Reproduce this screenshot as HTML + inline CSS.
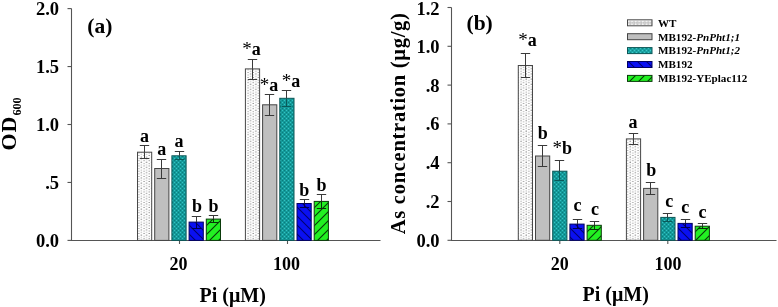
<!DOCTYPE html>
<html><head><meta charset="utf-8"><style>
html,body{margin:0;padding:0;background:#fff;}
svg{display:block;will-change:transform;}
</style></head><body>
<svg width="778" height="307" viewBox="0 0 778 307">
<defs>
<pattern id="pWT" width="5.2" height="5.2" patternUnits="userSpaceOnUse">
 <rect width="5.2" height="5.2" fill="#fff"/>
 <circle cx="1" cy="1" r="0.6" fill="#555"/>
 <circle cx="1" cy="3.6" r="0.55" fill="#999"/>
 <circle cx="3.6" cy="2.3" r="0.55" fill="#888"/>
 <circle cx="3.6" cy="4.9" r="0.6" fill="#666"/>
</pattern>
<pattern id="pTeal" width="4" height="4" patternUnits="userSpaceOnUse">
 <rect width="4" height="4" fill="#149a9a"/>
 <rect x="0" y="0" width="1" height="1" fill="#34c2c2"/>
 <rect x="2" y="2" width="1" height="1" fill="#34c2c2"/>
 <rect x="2" y="0" width="1" height="1" fill="#0a7c7c"/>
 <rect x="0" y="2" width="1" height="1" fill="#0a7c7c"/>
</pattern>
<pattern id="pBlue" width="9" height="9" patternUnits="userSpaceOnUse">
 <rect width="9" height="9" fill="#0a10f2"/>
 <path d="M-1,-1 L10,10 M-1,8 L1,10 M8,-1 L10,1" stroke="#000070" stroke-width="1.1"/>
</pattern>
<pattern id="pGreen" width="9" height="9" patternUnits="userSpaceOnUse">
 <rect width="9" height="9" fill="#22f022"/>
 <path d="M-1,10 L10,-1 M-1,1 L1,-1 M8,10 L10,8" stroke="#063806" stroke-width="1.1"/>
</pattern>
<pattern id="lWT" width="3.6" height="7" patternUnits="userSpaceOnUse" x="628.6" y="19.8">
 <rect width="3.6" height="7" fill="#fff"/>
 <rect x="0.4" y="1.4" width="2.6" height="3.4" rx="0.9" fill="#a8a8a8"/>
 <rect x="1.2" y="2.2" width="1" height="1.8" fill="#eee"/>
</pattern>
<pattern id="lTeal" width="4" height="4" patternUnits="userSpaceOnUse">
 <rect width="4" height="4" fill="#1ca4a4"/>
 <rect x="0" y="0" width="1" height="1" fill="#3ccaca"/>
 <rect x="2" y="2" width="1" height="1" fill="#3ccaca"/>
 <rect x="2" y="0" width="1" height="1" fill="#0f8a8a"/>
 <rect x="0" y="2" width="1" height="1" fill="#0f8a8a"/>
</pattern>
<pattern id="lBlue" width="9" height="9" patternUnits="userSpaceOnUse">
 <rect width="9" height="9" fill="#0a10f2"/>
 <path d="M-1,-1 L10,10 M-1,8 L1,10 M8,-1 L10,1" stroke="#000070" stroke-width="1.1"/>
</pattern>
<pattern id="lGreen" width="9" height="9" patternUnits="userSpaceOnUse">
 <rect width="9" height="9" fill="#22f022"/>
 <path d="M-1,10 L10,-1 M-1,1 L1,-1 M8,10 L10,8" stroke="#063806" stroke-width="1.1"/>
</pattern>
</defs>
<rect width="778" height="307" fill="#fff"/>
<line x1="71.5" y1="8.5" x2="71.5" y2="240.5" stroke="#555" stroke-width="1.1"/>
<line x1="71" y1="240.5" x2="380.5" y2="240.5" stroke="#555" stroke-width="1.1"/>
<line x1="67.5" y1="240.4" x2="71.5" y2="240.4" stroke="#555" stroke-width="1.1"/>
<text x="59" y="246.6" font-family="Liberation Serif" font-weight="bold" font-size="18.5" text-anchor="end" >0.0</text>
<line x1="67.5" y1="182.45" x2="71.5" y2="182.45" stroke="#555" stroke-width="1.1"/>
<text x="59" y="188.64999999999998" font-family="Liberation Serif" font-weight="bold" font-size="18.5" text-anchor="end" >.5</text>
<line x1="67.5" y1="124.5" x2="71.5" y2="124.5" stroke="#555" stroke-width="1.1"/>
<text x="59" y="130.7" font-family="Liberation Serif" font-weight="bold" font-size="18.5" text-anchor="end" >1.0</text>
<line x1="67.5" y1="66.54999999999998" x2="71.5" y2="66.54999999999998" stroke="#555" stroke-width="1.1"/>
<text x="59" y="72.74999999999999" font-family="Liberation Serif" font-weight="bold" font-size="18.5" text-anchor="end" >1.5</text>
<line x1="67.5" y1="8.599999999999994" x2="71.5" y2="8.599999999999994" stroke="#555" stroke-width="1.1"/>
<text x="59" y="15.299999999999994" font-family="Liberation Serif" font-weight="bold" font-size="18.5" text-anchor="end" >2.0</text>
<line x1="179.5" y1="240.5" x2="179.5" y2="244" stroke="#555" stroke-width="1.1"/>
<line x1="287.5" y1="240.5" x2="287.5" y2="244" stroke="#555" stroke-width="1.1"/>
<rect x="137.5" y="152.2" width="14.199999999999989" height="88.20000000000002" fill="url(#pWT)" stroke="#484848" stroke-width="1"/>
<rect x="154.7" y="168.5" width="14.199999999999989" height="71.9" fill="#bfbfbf" stroke="#444" stroke-width="1"/>
<rect x="171.9" y="155.8" width="14.199999999999989" height="84.6" fill="url(#pTeal)" stroke="#0b5656" stroke-width="1"/>
<rect x="189.1" y="222.1" width="14.199999999999989" height="18.30000000000001" fill="url(#pBlue)" stroke="#000060" stroke-width="1"/>
<rect x="206.3" y="219.1" width="14.199999999999989" height="21.30000000000001" fill="url(#pGreen)" stroke="#0a3a0a" stroke-width="1"/>
<line x1="144.5" y1="145.5" x2="144.5" y2="152.2" stroke="#3a3a3a" stroke-width="1"/>
<line x1="144.5" y1="152.2" x2="144.5" y2="158.5" stroke="#3a3a3a" stroke-width="1"/>
<line x1="139.8" y1="145.5" x2="149.2" y2="145.5" stroke="#3a3a3a" stroke-width="1"/>
<line x1="139.8" y1="158.5" x2="149.2" y2="158.5" stroke="#3a3a3a" stroke-width="1"/>
<line x1="161.5" y1="159.5" x2="161.5" y2="168.5" stroke="#3a3a3a" stroke-width="1"/>
<line x1="161.5" y1="168.5" x2="161.5" y2="178.5" stroke="#3a3a3a" stroke-width="1"/>
<line x1="156.8" y1="159.5" x2="166.2" y2="159.5" stroke="#3a3a3a" stroke-width="1"/>
<line x1="156.8" y1="178.5" x2="166.2" y2="178.5" stroke="#3a3a3a" stroke-width="1"/>
<line x1="179.5" y1="151.5" x2="179.5" y2="155.8" stroke="#3a3a3a" stroke-width="1"/>
<line x1="179.5" y1="155.8" x2="179.5" y2="159.5" stroke="#0a5a5a" stroke-width="1"/>
<line x1="174.8" y1="151.5" x2="184.2" y2="151.5" stroke="#3a3a3a" stroke-width="1"/>
<line x1="174.8" y1="159.5" x2="184.2" y2="159.5" stroke="#0a5a5a" stroke-width="1"/>
<line x1="196.5" y1="216.5" x2="196.5" y2="222.1" stroke="#3a3a3a" stroke-width="1"/>
<line x1="196.5" y1="222.1" x2="196.5" y2="228.5" stroke="#000050" stroke-width="1"/>
<line x1="191.8" y1="216.5" x2="201.2" y2="216.5" stroke="#3a3a3a" stroke-width="1"/>
<line x1="191.8" y1="228.5" x2="201.2" y2="228.5" stroke="#000050" stroke-width="1"/>
<line x1="213.5" y1="215.5" x2="213.5" y2="219.1" stroke="#3a3a3a" stroke-width="1"/>
<line x1="213.5" y1="219.1" x2="213.5" y2="222.5" stroke="#0a300a" stroke-width="1"/>
<line x1="208.8" y1="215.5" x2="218.2" y2="215.5" stroke="#3a3a3a" stroke-width="1"/>
<line x1="208.8" y1="222.5" x2="218.2" y2="222.5" stroke="#0a300a" stroke-width="1"/>
<rect x="245.4" y="68.9" width="14.200000000000017" height="171.5" fill="url(#pWT)" stroke="#484848" stroke-width="1"/>
<rect x="262.6" y="104.8" width="14.199999999999989" height="135.60000000000002" fill="#bfbfbf" stroke="#444" stroke-width="1"/>
<rect x="279.8" y="98.3" width="14.199999999999989" height="142.10000000000002" fill="url(#pTeal)" stroke="#0b5656" stroke-width="1"/>
<rect x="297.0" y="203.5" width="14.199999999999989" height="36.900000000000006" fill="url(#pBlue)" stroke="#000060" stroke-width="1"/>
<rect x="314.2" y="201.4" width="14.199999999999989" height="39.0" fill="url(#pGreen)" stroke="#0a3a0a" stroke-width="1"/>
<line x1="252.5" y1="59.5" x2="252.5" y2="68.9" stroke="#3a3a3a" stroke-width="1"/>
<line x1="252.5" y1="68.9" x2="252.5" y2="79.5" stroke="#3a3a3a" stroke-width="1"/>
<line x1="247.8" y1="59.5" x2="257.2" y2="59.5" stroke="#3a3a3a" stroke-width="1"/>
<line x1="247.8" y1="79.5" x2="257.2" y2="79.5" stroke="#3a3a3a" stroke-width="1"/>
<line x1="269.5" y1="94.5" x2="269.5" y2="104.8" stroke="#3a3a3a" stroke-width="1"/>
<line x1="269.5" y1="104.8" x2="269.5" y2="115.5" stroke="#3a3a3a" stroke-width="1"/>
<line x1="264.8" y1="94.5" x2="274.2" y2="94.5" stroke="#3a3a3a" stroke-width="1"/>
<line x1="264.8" y1="115.5" x2="274.2" y2="115.5" stroke="#3a3a3a" stroke-width="1"/>
<line x1="286.5" y1="90.5" x2="286.5" y2="98.3" stroke="#3a3a3a" stroke-width="1"/>
<line x1="286.5" y1="98.3" x2="286.5" y2="106.5" stroke="#0a5a5a" stroke-width="1"/>
<line x1="281.8" y1="90.5" x2="291.2" y2="90.5" stroke="#3a3a3a" stroke-width="1"/>
<line x1="281.8" y1="106.5" x2="291.2" y2="106.5" stroke="#0a5a5a" stroke-width="1"/>
<line x1="304.5" y1="199.5" x2="304.5" y2="203.5" stroke="#3a3a3a" stroke-width="1"/>
<line x1="304.5" y1="203.5" x2="304.5" y2="207.5" stroke="#000050" stroke-width="1"/>
<line x1="299.8" y1="199.5" x2="309.2" y2="199.5" stroke="#3a3a3a" stroke-width="1"/>
<line x1="299.8" y1="207.5" x2="309.2" y2="207.5" stroke="#000050" stroke-width="1"/>
<line x1="321.5" y1="194.5" x2="321.5" y2="201.4" stroke="#3a3a3a" stroke-width="1"/>
<line x1="321.5" y1="201.4" x2="321.5" y2="208.5" stroke="#0a300a" stroke-width="1"/>
<line x1="316.8" y1="194.5" x2="326.2" y2="194.5" stroke="#3a3a3a" stroke-width="1"/>
<line x1="316.8" y1="208.5" x2="326.2" y2="208.5" stroke="#0a300a" stroke-width="1"/>
<text x="144.6" y="141.7" font-family="Liberation Serif" font-weight="bold" font-size="18" text-anchor="middle" >a</text>
<text x="161.8" y="155.1" font-family="Liberation Serif" font-weight="bold" font-size="18" text-anchor="middle" >a</text>
<text x="179.0" y="147.4" font-family="Liberation Serif" font-weight="bold" font-size="18" text-anchor="middle" >a</text>
<text x="197.0" y="211.9" font-family="Liberation Serif" font-weight="bold" font-size="18" text-anchor="middle" >b</text>
<text x="213.6" y="211.9" font-family="Liberation Serif" font-weight="bold" font-size="18" text-anchor="middle" >b</text>
<text x="251.5" y="55.2" font-family="Liberation Serif" font-weight="bold" font-size="18" text-anchor="middle" ><tspan font-weight="normal" font-size="19">*</tspan>a</text>
<text x="269.0" y="90.5" font-family="Liberation Serif" font-weight="bold" font-size="18" text-anchor="middle" ><tspan font-weight="normal" font-size="19">*</tspan>a</text>
<text x="291.0" y="86.6" font-family="Liberation Serif" font-weight="bold" font-size="18" text-anchor="middle" ><tspan font-weight="normal" font-size="19">*</tspan>a</text>
<text x="304.3" y="196.2" font-family="Liberation Serif" font-weight="bold" font-size="18" text-anchor="middle" >b</text>
<text x="321.4" y="190.8" font-family="Liberation Serif" font-weight="bold" font-size="18" text-anchor="middle" >b</text>
<text x="87.3" y="32.6" font-family="Liberation Serif" font-weight="bold" font-size="21.5" text-anchor="start" >(a)</text>
<text x="178.5" y="269.5" font-family="Liberation Serif" font-weight="bold" font-size="18" text-anchor="middle" >20</text>
<text x="286.5" y="269.5" font-family="Liberation Serif" font-weight="bold" font-size="18" text-anchor="middle" >100</text>
<text x="232.7" y="301.8" font-family="Liberation Serif" font-weight="bold" font-size="20" text-anchor="middle" >Pi (μM)</text>
<text transform="translate(15.8,150.6) rotate(-90)" font-family="Liberation Serif" font-weight="bold" font-size="22"><tspan letter-spacing="1">O</tspan>D<tspan font-size="12.2" dx="1" dy="4.9">600</tspan></text>
<line x1="451.5" y1="7.5" x2="451.5" y2="240.5" stroke="#555" stroke-width="1.1"/>
<line x1="451" y1="240.5" x2="776.5" y2="240.5" stroke="#555" stroke-width="1.1"/>
<line x1="447.5" y1="240.3" x2="451.5" y2="240.3" stroke="#555" stroke-width="1.1"/>
<text x="439.5" y="246.70000000000002" font-family="Liberation Serif" font-weight="bold" font-size="18.5" text-anchor="end" >0.0</text>
<line x1="447.5" y1="201.5" x2="451.5" y2="201.5" stroke="#555" stroke-width="1.1"/>
<text x="439.5" y="207.9" font-family="Liberation Serif" font-weight="bold" font-size="18.5" text-anchor="end" >.2</text>
<line x1="447.5" y1="162.7" x2="451.5" y2="162.7" stroke="#555" stroke-width="1.1"/>
<text x="439.5" y="169.1" font-family="Liberation Serif" font-weight="bold" font-size="18.5" text-anchor="end" >.4</text>
<line x1="447.5" y1="123.9" x2="451.5" y2="123.9" stroke="#555" stroke-width="1.1"/>
<text x="439.5" y="130.3" font-family="Liberation Serif" font-weight="bold" font-size="18.5" text-anchor="end" >.6</text>
<line x1="447.5" y1="85.1" x2="451.5" y2="85.1" stroke="#555" stroke-width="1.1"/>
<text x="439.5" y="91.5" font-family="Liberation Serif" font-weight="bold" font-size="18.5" text-anchor="end" >.8</text>
<line x1="447.5" y1="46.29999999999998" x2="451.5" y2="46.29999999999998" stroke="#555" stroke-width="1.1"/>
<text x="439.5" y="52.69999999999998" font-family="Liberation Serif" font-weight="bold" font-size="18.5" text-anchor="end" >1.0</text>
<line x1="447.5" y1="7.5" x2="451.5" y2="7.5" stroke="#555" stroke-width="1.1"/>
<text x="439.5" y="14.700000000000001" font-family="Liberation Serif" font-weight="bold" font-size="18.5" text-anchor="end" >1.2</text>
<line x1="559.8" y1="240.5" x2="559.8" y2="244" stroke="#555" stroke-width="1.1"/>
<line x1="667.8" y1="240.5" x2="667.8" y2="244" stroke="#555" stroke-width="1.1"/>
<rect x="518.3" y="65.5" width="14.200000000000045" height="174.8" fill="url(#pWT)" stroke="#484848" stroke-width="1"/>
<rect x="535.5" y="156.0" width="14.200000000000045" height="84.30000000000001" fill="#bfbfbf" stroke="#444" stroke-width="1"/>
<rect x="552.6999999999999" y="171.2" width="14.200000000000045" height="69.10000000000002" fill="url(#pTeal)" stroke="#0b5656" stroke-width="1"/>
<rect x="569.9" y="224.1" width="14.200000000000045" height="16.200000000000017" fill="url(#pBlue)" stroke="#000060" stroke-width="1"/>
<rect x="587.0999999999999" y="225.3" width="14.200000000000045" height="15.0" fill="url(#pGreen)" stroke="#0a3a0a" stroke-width="1"/>
<line x1="525.5" y1="53.5" x2="525.5" y2="65.5" stroke="#3a3a3a" stroke-width="1"/>
<line x1="525.5" y1="65.5" x2="525.5" y2="77.5" stroke="#3a3a3a" stroke-width="1"/>
<line x1="520.8" y1="53.5" x2="530.2" y2="53.5" stroke="#3a3a3a" stroke-width="1"/>
<line x1="520.8" y1="77.5" x2="530.2" y2="77.5" stroke="#3a3a3a" stroke-width="1"/>
<line x1="542.5" y1="145.5" x2="542.5" y2="156.0" stroke="#3a3a3a" stroke-width="1"/>
<line x1="542.5" y1="156.0" x2="542.5" y2="166.5" stroke="#3a3a3a" stroke-width="1"/>
<line x1="537.8" y1="145.5" x2="547.2" y2="145.5" stroke="#3a3a3a" stroke-width="1"/>
<line x1="537.8" y1="166.5" x2="547.2" y2="166.5" stroke="#3a3a3a" stroke-width="1"/>
<line x1="559.5" y1="160.5" x2="559.5" y2="171.2" stroke="#3a3a3a" stroke-width="1"/>
<line x1="559.5" y1="171.2" x2="559.5" y2="180.5" stroke="#0a5a5a" stroke-width="1"/>
<line x1="554.8" y1="160.5" x2="564.2" y2="160.5" stroke="#3a3a3a" stroke-width="1"/>
<line x1="554.8" y1="180.5" x2="564.2" y2="180.5" stroke="#0a5a5a" stroke-width="1"/>
<line x1="577.5" y1="219.5" x2="577.5" y2="224.1" stroke="#3a3a3a" stroke-width="1"/>
<line x1="577.5" y1="224.1" x2="577.5" y2="228.5" stroke="#000050" stroke-width="1"/>
<line x1="572.8" y1="219.5" x2="582.2" y2="219.5" stroke="#3a3a3a" stroke-width="1"/>
<line x1="572.8" y1="228.5" x2="582.2" y2="228.5" stroke="#000050" stroke-width="1"/>
<line x1="594.5" y1="221.5" x2="594.5" y2="225.3" stroke="#3a3a3a" stroke-width="1"/>
<line x1="594.5" y1="225.3" x2="594.5" y2="229.5" stroke="#0a300a" stroke-width="1"/>
<line x1="589.8" y1="221.5" x2="599.2" y2="221.5" stroke="#3a3a3a" stroke-width="1"/>
<line x1="589.8" y1="229.5" x2="599.2" y2="229.5" stroke="#0a300a" stroke-width="1"/>
<rect x="626.4" y="138.9" width="14.200000000000045" height="101.4" fill="url(#pWT)" stroke="#484848" stroke-width="1"/>
<rect x="643.6" y="188.4" width="14.200000000000045" height="51.900000000000006" fill="#bfbfbf" stroke="#444" stroke-width="1"/>
<rect x="660.8" y="217.4" width="14.200000000000045" height="22.900000000000006" fill="url(#pTeal)" stroke="#0b5656" stroke-width="1"/>
<rect x="678.0" y="223.4" width="14.200000000000045" height="16.900000000000006" fill="url(#pBlue)" stroke="#000060" stroke-width="1"/>
<rect x="695.1999999999999" y="226.2" width="14.200000000000045" height="14.100000000000023" fill="url(#pGreen)" stroke="#0a3a0a" stroke-width="1"/>
<line x1="633.5" y1="133.5" x2="633.5" y2="138.9" stroke="#3a3a3a" stroke-width="1"/>
<line x1="633.5" y1="138.9" x2="633.5" y2="144.5" stroke="#3a3a3a" stroke-width="1"/>
<line x1="628.8" y1="133.5" x2="638.2" y2="133.5" stroke="#3a3a3a" stroke-width="1"/>
<line x1="628.8" y1="144.5" x2="638.2" y2="144.5" stroke="#3a3a3a" stroke-width="1"/>
<line x1="650.5" y1="182.5" x2="650.5" y2="188.4" stroke="#3a3a3a" stroke-width="1"/>
<line x1="650.5" y1="188.4" x2="650.5" y2="194.5" stroke="#3a3a3a" stroke-width="1"/>
<line x1="645.8" y1="182.5" x2="655.2" y2="182.5" stroke="#3a3a3a" stroke-width="1"/>
<line x1="645.8" y1="194.5" x2="655.2" y2="194.5" stroke="#3a3a3a" stroke-width="1"/>
<line x1="667.5" y1="213.5" x2="667.5" y2="217.4" stroke="#3a3a3a" stroke-width="1"/>
<line x1="667.5" y1="217.4" x2="667.5" y2="221.5" stroke="#0a5a5a" stroke-width="1"/>
<line x1="662.8" y1="213.5" x2="672.2" y2="213.5" stroke="#3a3a3a" stroke-width="1"/>
<line x1="662.8" y1="221.5" x2="672.2" y2="221.5" stroke="#0a5a5a" stroke-width="1"/>
<line x1="685.5" y1="219.5" x2="685.5" y2="223.4" stroke="#3a3a3a" stroke-width="1"/>
<line x1="685.5" y1="223.4" x2="685.5" y2="227.5" stroke="#000050" stroke-width="1"/>
<line x1="680.8" y1="219.5" x2="690.2" y2="219.5" stroke="#3a3a3a" stroke-width="1"/>
<line x1="680.8" y1="227.5" x2="690.2" y2="227.5" stroke="#000050" stroke-width="1"/>
<line x1="702.5" y1="223.5" x2="702.5" y2="226.2" stroke="#3a3a3a" stroke-width="1"/>
<line x1="702.5" y1="226.2" x2="702.5" y2="228.5" stroke="#0a300a" stroke-width="1"/>
<line x1="697.8" y1="223.5" x2="707.2" y2="223.5" stroke="#3a3a3a" stroke-width="1"/>
<line x1="697.8" y1="228.5" x2="707.2" y2="228.5" stroke="#0a300a" stroke-width="1"/>
<text x="527.4" y="45.5" font-family="Liberation Serif" font-weight="bold" font-size="18" text-anchor="middle" ><tspan font-weight="normal" font-size="19">*</tspan>a</text>
<text x="542.8" y="138.9" font-family="Liberation Serif" font-weight="bold" font-size="18" text-anchor="middle" >b</text>
<text x="562.3" y="153.7" font-family="Liberation Serif" font-weight="bold" font-size="18" text-anchor="middle" ><tspan font-weight="normal" font-size="19">*</tspan>b</text>
<text x="577.4" y="210.7" font-family="Liberation Serif" font-weight="bold" font-size="18" text-anchor="middle" >c</text>
<text x="594.9" y="214.5" font-family="Liberation Serif" font-weight="bold" font-size="18" text-anchor="middle" >c</text>
<text x="632.9" y="127.6" font-family="Liberation Serif" font-weight="bold" font-size="18" text-anchor="middle" >a</text>
<text x="651.3" y="175.5" font-family="Liberation Serif" font-weight="bold" font-size="18" text-anchor="middle" >b</text>
<text x="669.2" y="206.8" font-family="Liberation Serif" font-weight="bold" font-size="18" text-anchor="middle" >c</text>
<text x="685.2" y="213.3" font-family="Liberation Serif" font-weight="bold" font-size="18" text-anchor="middle" >c</text>
<text x="702.4" y="217.7" font-family="Liberation Serif" font-weight="bold" font-size="18" text-anchor="middle" >c</text>
<text x="466.5" y="29.6" font-family="Liberation Serif" font-weight="bold" font-size="21.5" text-anchor="start" >(b)</text>
<text x="559.8" y="269.8" font-family="Liberation Serif" font-weight="bold" font-size="18" text-anchor="middle" >20</text>
<text x="667.9" y="269.8" font-family="Liberation Serif" font-weight="bold" font-size="18" text-anchor="middle" >100</text>
<text x="615.7" y="301" font-family="Liberation Serif" font-weight="bold" font-size="20" text-anchor="middle" >Pi (μM)</text>
<text transform="translate(404.5,234.2) rotate(-90)" font-family="Liberation Serif" font-weight="bold" font-size="20.5" letter-spacing="0.72">As concentration (μg/g)</text>
<rect x="627.5" y="19.8" width="24.5" height="6" fill="url(#lWT)" stroke="#484848" stroke-width="1"/>
<text x="658" y="26.6" font-family="Liberation Serif" font-weight="bold" font-size="11.1" text-anchor="start" >WT</text>
<rect x="627.5" y="33.7" width="24.5" height="6" fill="#bfbfbf" stroke="#444" stroke-width="1"/>
<text x="658" y="40.5" font-family="Liberation Serif" font-weight="bold" font-size="11.1" text-anchor="start" >MB192-<tspan font-style="italic">PnPht1;1</tspan></text>
<rect x="627.5" y="47.6" width="24.5" height="6" fill="url(#lTeal)" stroke="#0b5656" stroke-width="1"/>
<text x="658" y="54.4" font-family="Liberation Serif" font-weight="bold" font-size="11.1" text-anchor="start" >MB192-<tspan font-style="italic">PnPht1;2</tspan></text>
<rect x="627.5" y="61.5" width="24.5" height="6" fill="url(#lBlue)" stroke="#000060" stroke-width="1"/>
<text x="658" y="68.3" font-family="Liberation Serif" font-weight="bold" font-size="11.1" text-anchor="start" >MB192</text>
<rect x="627.5" y="75.4" width="24.5" height="6" fill="url(#lGreen)" stroke="#0a3a0a" stroke-width="1"/>
<text x="658" y="82.2" font-family="Liberation Serif" font-weight="bold" font-size="11.1" text-anchor="start" >MB192-YEplac112</text>
</svg>
</body></html>
